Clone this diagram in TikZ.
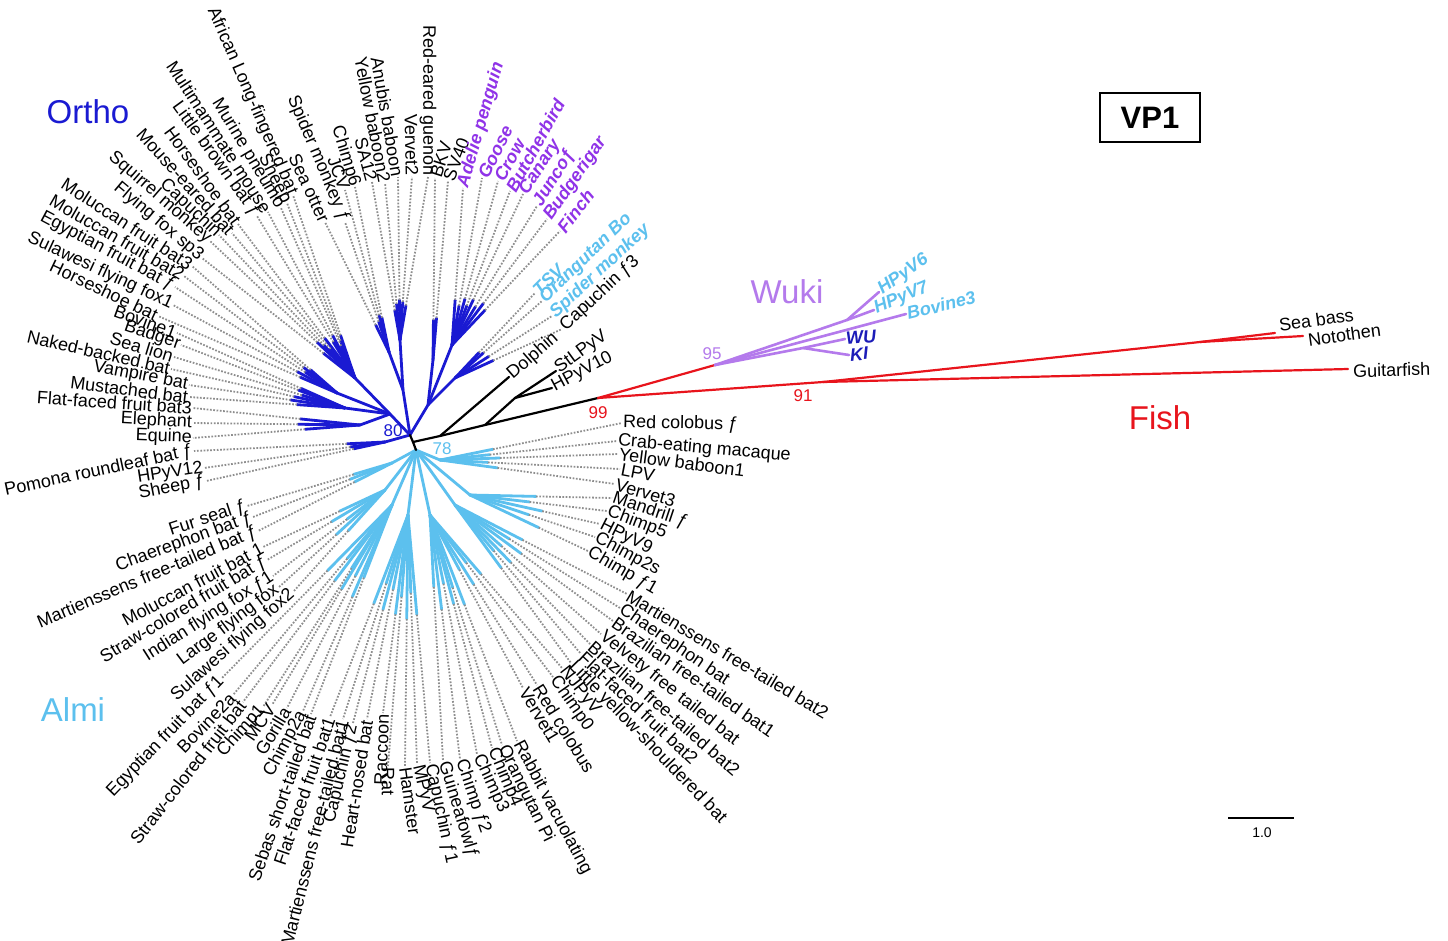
\documentclass[tikz,border=0pt]{standalone}
\usepackage{fontspec}
\setmainfont{Liberation Sans}
\usetikzlibrary{calc}
\definecolor{obl}{HTML}{1A1AD2}
\definecolor{alb}{HTML}{5CC0EE}
\definecolor{brd}{HTML}{9033E8}
\definecolor{wuk}{HTML}{B47AEC}
\definecolor{fsh}{HTML}{E8141C}
\definecolor{wki}{HTML}{1C1CB8}
\definecolor{dgr}{HTML}{8E8E8E}
\newcommand\lfont{\fontsize{18}{20}\selectfont}
\newcommand\leaf[9][]{%
  \node[lab,#1,anchor=#8,rotate=#7] (#2) at (#5,-#6) {#9};
  \coordinate (#2t) at ($(#3)!#4pt!(#2.#8)$);
  \draw[curbr] (#3) -- (#2t);
  \draw[dotl] (#2t) -- (#2.#8);
}
\tikzset{
  lab/.style={font=\lfont, inner sep=1pt, text=black},
  bird/.style={text=brd, font=\lfont\bfseries\itshape},
  lbb/.style={text=alb, font=\lfont\bfseries\itshape},
  wkl/.style={text=wki, font=\lfont\bfseries\itshape},
  dotl/.style={dgr, line width=1.8pt, dash pattern=on 1.7pt off 1.6pt},
  obr/.style={obl, line width=2.8pt, line cap=round, line join=round},
  abr/.style={alb, line width=2.8pt, line cap=round, line join=round},
  kbr/.style={black, line width=2.2pt, line cap=round, line join=round},
  rbr/.style={fsh, line width=2.2pt, line cap=round, line join=round},
  wbr/.style={wuk, line width=2.6pt, line cap=round, line join=round},
  curbr/.style={obr},
  num/.style={font=\fontsize{17}{17}\selectfont, inner sep=0pt},
  big/.style={font=\fontsize{33}{33}\selectfont, inner sep=0pt},
}
\begin{document}
\begin{tikzpicture}[x=1pt,y=1pt]
\useasboundingbox (0,0) rectangle (1448,-940);
\fill[white] (0,0) rectangle (1448,-940);
% internal nodes
\coordinate (nR0) at (413,-442);
\coordinate (nO) at (410,-435);
\coordinate (nA) at (416,-450);
\coordinate (nU) at (403,-390);
\coordinate (nU1) at (400,-340);
\coordinate (nU2) at (389,-352);
\coordinate (nL) at (390,-414);
\coordinate (nL1) at (355,-378);
\coordinate (nL1b) at (337,-393);
\coordinate (nL2) at (345,-408);
\coordinate (nL3) at (360,-425);
\coordinate (nL4) at (385,-442);
\coordinate (nR) at (428,-405);
\coordinate (nR1) at (433,-360);
\coordinate (nR2) at (452,-345);
\coordinate (nR3) at (455,-378);
\coordinate (nAL3) at (392,-463);
\coordinate (nAL2) at (385,-490);
\coordinate (nAL1) at (392,-505);
\coordinate (nAB2) at (408,-515);
\coordinate (nAB1) at (430,-515);
\coordinate (nAR3) at (455,-505);
\coordinate (nAR2) at (470,-495);
\coordinate (nAR1) at (440,-460);
\coordinate (nB1) at (440,-436);
\coordinate (nB2) at (485,-425);
\coordinate (nB3) at (515,-398);
\coordinate (n99) at (598,-398);
\coordinate (n95) at (715,-365);
\coordinate (nW1) at (847,-320);
\coordinate (nW2) at (803,-348);
\coordinate (n91) at (823,-382);
\coordinate (nF1) at (1200,-342);
% internal branches
\draw[obr] (nO) -- (nU) -- (nU1); \draw[obr] (nU) -- (nU2);
\draw[obr] (nO) -- (nL) -- (nL1); \draw[obr] (nL) -- (nL1b); \draw[obr] (nL) -- (nL2); \draw[obr] (nL) -- (nL3);
\draw[obr] (nO) -- (nL4);
\draw[obr] (nO) -- (nR) -- (nR1); \draw[obr] (nR) -- (nR2); \draw[obr] (nR) -- (nR3);
\foreach \n in {nAL3,nAL2,nAL1,nAB2,nAB1,nAR3,nAR2,nAR1} \draw[abr] (nA) -- (\n);
\draw[kbr] (nO) -- (nR0) -- (nA);
\draw[kbr] (nR0) -- (nB1) -- (nB2) -- (n99);
\draw[kbr] (nB2) -- (nB3);
\draw[rbr] (n99) -- (n95);
\draw[rbr] (n99) -- (n91);
% ---- Ortho leaves
\tikzset{curbr/.style={obr}}
\leaf{o1}{nU1}{35}{428}{177}{-90}{east}{Red-eared guenon}
\leaf{o2}{nU1}{38}{412}{177}{-89}{east}{Vervet2}
\leaf{o3}{nU1}{40}{398}{177}{-80}{east}{Anubis baboon}
\leaf{o4}{nU1}{36}{385}{183}{-79}{east}{Yellow baboon2}
\leaf{o5}{nU1}{30}{372}{182}{-75}{east}{SA12}
\leaf{o6}{nU2}{35}{355}{187}{-73}{east}{Chimp6}
\leaf{o7}{nU2}{38}{345}{190}{-70}{east}{JCV}
\leaf{o8}{nU2}{32}{345}{222}{-67}{east}{Spider monkey ƒ}
\leaf{o9}{nU2}{30}{325}{222}{-65}{east}{Sea otter}
\leaf{o10}{nL1}{45}{293}{195}{-66.5}{east}{African Long-fingered bat}
\leaf{o11}{nL1}{40}{287}{203}{-63}{east}{Sheep}
\leaf{o12}{nL1}{35}{281}{208}{-59}{east}{Murine pneumo}
\leaf{o13}{nL1}{48}{268}{212}{-57}{east}{Multimammate mouse}
\leaf{o14}{nL1}{42}{257}{216}{-54}{east}{Little brown bat ƒ}
\leaf{o15}{nL1}{50}{238}{224}{-54}{east}{Horseshoe bat}
\leaf{o16}{nL1}{38}{232}{233}{-48}{east}{Mouse-eared bat}
\leaf{o17}{nL1}{45}{219}{235}{-43}{east}{Capuchin}
\leaf{o18}{nL1}{52}{210}{241}{-41}{east}{Squirrel monkey}
\leaf{o19}{nL1}{40}{202}{258}{-40}{east}{Flying fox sp3}
\leaf{o20}{nL1b}{35}{192}{266}{-33}{east}{Moluccan fruit bat3}
\leaf{o21}{nL1b}{42}{184}{276}{-30}{east}{Moluccan fruit bat2}
\leaf{o22}{nL1b}{38}{175}{287}{-28}{east}{Egyptian fruit bat ƒ}
\leaf{o23}{nL1b}{45}{173}{305}{-25}{east}{Sulawesi flying fox1}
\leaf{o24}{nL1b}{40}{158}{316}{-25.5}{east}{Horseshoe bat}
\leaf{o25}{nL2}{48}{177}{333}{-20}{east}{Bovine1}
\leaf{o26}{nL2}{50}{181}{345}{-19}{east}{Badger}
\leaf{o27}{nL2}{45}{174}{357}{-17}{east}{Sea lion}
\leaf{o28}{nL2}{52}{171}{369}{-13}{east}{Naked-backed bat}
\leaf{o29}{nL2}{55}{189}{385}{-11}{east}{Vampire bat}
\leaf{o30}{nL2}{48}{189}{397}{-7}{east}{Mustached bat}
\leaf{o31}{nL3}{60}{193}{408}{-4}{east}{Flat-faced fruit bat3}
\leaf{o32}{nL3}{62}{193}{423}{-3}{east}{Elephant}
\leaf{o33}{nL3}{55}{193}{438}{-2}{east}{Equine}
\leaf{o34}{nL4}{38}{194}{451}{12}{east}{Pomona roundleaf bat ƒ}
\leaf{o35}{nL4}{35}{204}{468}{9}{east}{HPyV12}
\leaf{o36}{nL4}{32}{206}{481}{11}{east}{Sheep ƒ}
\leaf{o37}{nR1}{40}{435}{178}{72}{west}{BKV}
\leaf{o38}{nR1}{42}{448}{181}{69}{west}{SV40}
\leaf[bird]{o39}{nR2}{45}{463}{188}{74}{west}{Adelie penguin}
\leaf[bird]{o40}{nR2}{40}{482}{178}{63}{west}{Goose}
\leaf[bird]{o41}{nR2}{48}{498}{181}{61}{west}{Crow}
\leaf[bird]{o42}{nR2}{42}{510}{191}{61}{west}{Butcherbird}
\leaf[bird]{o43}{nR2}{50}{523}{194}{57}{west}{Canary}
\leaf[bird]{o44}{nR2}{45}{537}{206}{58}{west}{Juncoƒ}
\leaf[bird]{o45}{nR2}{52}{547}{219}{55}{west}{Budgerigar}
\leaf[bird]{o46}{nR2}{48}{560}{231}{52}{west}{Finch}
\leaf[lbb]{o47}{nR3}{35}{535}{293}{45}{west}{TSV}
\leaf[lbb]{o48}{nR3}{38}{542}{301}{44}{west}{Orangutan Bo}
\leaf[lbb]{o49}{nR3}{40}{552}{316}{43}{west}{Spider monkey}
\leaf{o50}{nR3}{42}{562}{329}{43}{west}{Capuchin ƒ3}
% ---- Almi leaves
\tikzset{curbr/.style={abr}}
\leaf{a1}{nAL3}{40}{247}{506}{18}{east}{Fur seal ƒ}
\leaf{a2}{nAL3}{45}{253}{517}{20}{east}{Chaerephon bat ƒ}
\leaf{a3}{nAL3}{42}{258}{531}{23}{east}{Martienssens free-tailed bat ƒ}
\leaf{a4}{nAL2}{50}{263}{547}{28}{east}{Moluccan fruit bat 1}
\leaf{a5}{nAL2}{62}{267}{560}{31}{east}{Straw-colored fruit bat ƒ}
\leaf{a6}{nAL2}{48}{273}{576}{32.5}{east}{Indian flying fox ƒ1}
\leaf{a7}{nAL2}{66}{278}{588}{37}{east}{Large flying fox}
\leaf{a8}{nAL2}{55}{293}{592}{41.5}{east}{Sulawesi flying fox2}
\leaf{a9}{nAL1}{92}{222}{678}{46}{east}{Egyptian fruit bat ƒ1}
\leaf{a10}{nAL1}{70}{233}{695}{46}{east}{Bovine2a}
\leaf{a11}{nAL1}{95}{243}{702}{52}{east}{Straw-colored fruit bat}
\leaf{a12}{nAL1}{75}{263}{707}{48}{east}{Chimp1}
\leaf{a13}{nAL1}{98}{272}{705}{55}{east}{MCV}
\leaf{a14}{nAL1}{80}{287}{708}{59}{east}{Gorilla}
\leaf{a15}{nAL1}{100}{303}{711}{62}{east}{Chimp2a}
\leaf{a16}{nAL1}{78}{311}{714}{71}{east}{Sebas short-tailed bat}
\leaf{a17}{nAB2}{95}{330}{717}{71}{east}{Flat-faced fruit bat1}
\leaf{a18}{nAB2}{72}{343}{719}{76}{east}{Martienssens free-tailed bat1}
\leaf{a19}{nAB2}{98}{353}{723}{77}{east}{Capuchin ƒ2}
\leaf{a20}{nAB2}{76}{367}{719}{81}{east}{Heart-nosed bat}
\leaf{a21}{nAB2}{100}{383}{713}{88}{east}{Raccoon}
\leaf{a22}{nAB2}{82}{388}{766}{-90}{west}{Rat}
\leaf{a23}{nAB2}{104}{405}{766}{-82}{west}{Hamster}
\leaf{a24}{nAB2}{78}{417}{764}{-77}{west}{MPyV}
\leaf{a25}{nAB2}{100}{430}{763}{-78}{west}{Capuchin ƒ1}
\leaf{a26}{nAB1}{72}{443}{761}{-73}{west}{Guineafowlƒ}
\leaf{a27}{nAB1}{95}{460}{759}{-71}{west}{Chimp ƒ2}
\leaf{a28}{nAB1}{70}{477}{754}{-65}{west}{Chimp3}
\leaf{a29}{nAB1}{92}{492}{748}{-67}{west}{Chimp4}
\leaf{a30}{nAB1}{76}{502}{745}{-64}{west}{Orangutan Pi}
\leaf{a31}{nAB1}{96}{517}{741}{-62}{west}{Rabbit vacuolating}
\leaf{a32}{nAB1}{62}{523}{688}{-59}{west}{Vervet1}
\leaf{a33}{nAB1}{82}{537}{685}{-58}{west}{Red colobus}
\leaf{a34}{nAB1}{60}{553}{677}{-55}{west}{Chimp0}
\leaf{a35}{nAB1}{78}{562}{668}{-52}{west}{NJPyV}
\leaf{a36}{nAR3}{78}{571}{663}{-46}{west}{Little yellow-shouldered bat}
\leaf{a37}{nAR3}{60}{581}{654}{-43}{west}{Flat-faced fruit bat2}
\leaf{a38}{nAR3}{80}{590}{644}{-41}{west}{Brazilian free-tailed bat2}
\leaf{a39}{nAR3}{62}{601}{634}{-38.5}{west}{Velvety free tailed bat}
\leaf{a40}{nAR3}{82}{613}{621}{-35}{west}{Brazilian free-tailed bat1}
\leaf{a41}{nAR3}{64}{620}{608}{-34.5}{west}{Chaerephon bat}
\leaf{a42}{nAR3}{76}{627}{594}{-31}{west}{Martienssens free-tailed bat2}
\leaf{a43}{nAR2}{76}{588}{551}{-30}{west}{Chimp ƒ1}
\leaf{a44}{nAR2}{62}{595}{537}{-28}{west}{Chimp2s}
\leaf{a45}{nAR2}{74}{600}{524}{-27}{west}{HPyV9}
\leaf{a46}{nAR2}{60}{607}{511}{-21}{west}{Chimp5}
\leaf{a47}{nAR2}{66}{612}{498}{-18.5}{west}{Mandrill ƒ}
\leaf{a48}{nAR1}{58}{615}{484}{-16}{west}{Vervet3}
\leaf{a49}{nAR1}{48}{620}{469}{-11}{west}{LPV}
\leaf{a50}{nAR1}{60}{618}{454}{-7.5}{west}{Yellow baboon1}
\leaf{a51}{nAR1}{50}{617}{441}{-5}{west}{Crab-eating macaque}
\leaf{a52}{nAR1}{54}{622}{423}{-1}{west}{Red colobus ƒ}
% ---- black leaves
\node[lab,rotate=41,anchor=west] (kD) at (509,-377) {Dolphin};
\node[lab,rotate=36,anchor=west] (kS) at (556,-371) {StLPyV};
\node[lab,rotate=28,anchor=west] (kH) at (552,-388) {HPyV10};
\draw[kbr] (nB1) -- (kD.west);
\draw[kbr] (nB3) -- (kS.west);
\draw[kbr] (nB3) -- (kH.west);
% ---- Wuki
\node[lab,lbb,rotate=35,anchor=west] (wH6) at (879,-292) {HPyV6};
\node[lab,lbb,rotate=23,anchor=west] (wH7) at (874,-310) {HPyV7};
\node[lab,lbb,rotate=14,anchor=west] (wB3) at (906,-314) {Bovine3};
\node[lab,wkl,rotate=5,anchor=west] (wWU) at (845,-339) {WU};
\node[lab,wkl,rotate=5,anchor=west] (wKI) at (849,-355) {KI};
\draw[wbr] (n95) -- (nW1) -- (wH6.west);
\draw[wbr] (nW1) -- (wH7.west);
\draw[wbr] (n95) -- (wB3.west);
\draw[wbr] (n95) -- (nW2) -- (wWU.west);
\draw[wbr] (nW2) -- (wKI.west);
% ---- Fish
\coordinate (fSBt) at (1275,-333);
\coordinate (fNOt) at (1303,-336);
\coordinate (fGUt) at (1348,-369);
\node[lab,rotate=8,anchor=west] (fSB) at (1278,-325) {Sea bass};
\node[lab,rotate=8,anchor=west] (fNO) at (1307,-340) {Notothen};
\node[lab,rotate=1.5,anchor=west] (fGU) at (1352,-371) {Guitarfish};
\draw[rbr] (n91) -- (nF1) -- (fSBt);
\draw[rbr] (nF1) -- (fNOt);
\draw[rbr] (n91) -- (fGUt);
% ---- numbers and clade names
\node[num,text=obl] (b80) at (393,-431) {80};
\node[num,text=alb] (b78) at (442,-449) {78};
\node[num,text=fsh] (b99) at (598,-413) {99};
\node[num,text=fsh] (b91) at (803,-396) {91};
\node[num,text=wuk] (b95) at (712,-354) {95};
\node[big,text=obl] (cO) at (88,-112) {Ortho};
\node[big,text=alb] (cA) at (73,-710) {Almi};
\node[big,text=wuk] (cW) at (787,-292) {Wuki};
\node[big,text=fsh] (cF) at (1160,-418) {Fish};
\node[draw,line width=2pt,minimum width=100pt,minimum height=49pt,inner sep=0pt,font=\fontsize{31}{31}\selectfont\bfseries] (vp) at (1150,-117.5) {VP1};
% scale bar
\coordinate (sb1) at (1228,-818);
\coordinate (sb2) at (1294,-818);
\draw[line width=1.6pt] (sb1) -- (sb2);
\node[font=\fontsize{14}{14}\selectfont, inner sep=0pt] (sbl) at (1262,-833) {1.0};
\end{tikzpicture}
\end{document}
